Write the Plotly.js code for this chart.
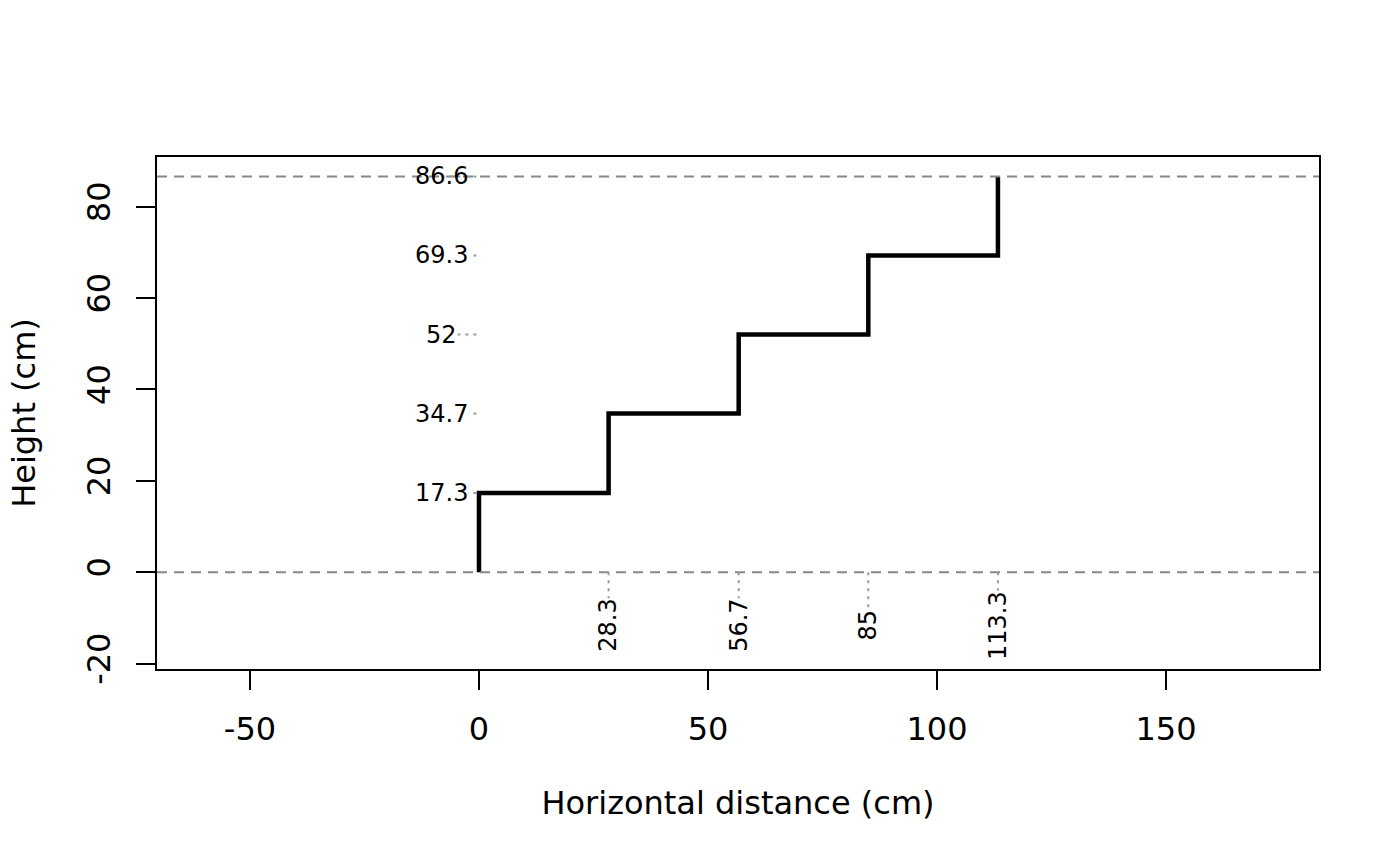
<!DOCTYPE html>
<html>
<head>
<meta charset="utf-8">
<script src="https://cdn.plot.ly/plotly-3.0.1.min.js"></script>
<style>html,body{margin:0;padding:0;background:#fff;}#chart{width:1400px;height:866px;}</style>
</head>
<body>
<div id="chart"></div>
<script>
// Data
const runX = [0, 28.3, 56.7, 85, 113.3];            // x position of each riser
const riseY = [0, 17.3, 34.7, 52, 69.3, 86.6];       // cumulative heights
const runLabels = ["28.3", "56.7", "85", "113.3"];
const riseLabels = ["17.3", "34.7", "52", "69.3", "86.6"];
const xTicks = [-50, 0, 50, 100, 150];
const yTicks = [-20, 0, 20, 40, 60, 80];
const labelX = -8.2;     // centre of the height labels (data units)
const labelY = -11.6;    // centre of the distance labels (data units)

// staircase path
const sx = [], sy = [];
for (let i = 0; i < runX.length; i++) {
  sx.push(runX[i]); sy.push(riseY[i]);
  sx.push(runX[i]); sy.push(riseY[i + 1]);
}

const FONT = "DejaVu Sans, Liberation Sans, sans-serif";
const grey = "#888888";

const shapes = [];
// dashed reference lines at ground and top
[riseY[0], riseY[riseY.length - 1]].forEach(v => {
  shapes.push({type: "line", xref: "paper", x0: 0, x1: 1, yref: "y", y0: v, y1: v,
    line: {color: grey, width: 2, dash: "10px,7px"}, layer: "above"});
});
// dotted leader lines for heights
riseY.slice(1).forEach(v => {
  shapes.push({type: "line", xref: "x", yref: "y", x0: labelX, x1: 0, y0: v, y1: v,
    line: {color: "#999999", width: 2, dash: "3px,5px"}, layer: "above"});
});
// dotted leader lines for distances
runX.slice(1).forEach(v => {
  shapes.push({type: "line", xref: "x", yref: "y", x0: v, x1: v, y0: 0, y1: labelY,
    line: {color: "#999999", width: 2, dash: "3px,5px"}, layer: "above"});
});

const annotations = [];
riseLabels.forEach((t, i) => {
  const last = i === riseLabels.length - 1;
  annotations.push({x: labelX, y: riseY[i + 1], xref: "x", yref: "y", text: t,
    showarrow: false, xanchor: "center", yanchor: "middle",
    font: {family: FONT, size: 24, color: "#000"},
    bgcolor: last ? "rgba(0,0,0,0)" : "#ffffff", borderpad: 0});
});
runLabels.forEach((t, i) => {
  annotations.push({x: runX[i + 1], y: labelY, xref: "x", yref: "y", text: t,
    showarrow: false, xanchor: "center", yanchor: "middle", textangle: -90,
    font: {family: FONT, size: 24, color: "#000"},
    bgcolor: "#ffffff", borderpad: 0});
});

const trace = {x: sx, y: sy, type: "scatter", mode: "lines",
  line: {color: "#000", width: 4.5}, hoverinfo: "skip", showlegend: false};

const layout = {
  width: 1400, height: 866,
  margin: {l: 157, r: 81, t: 157, b: 197},
  paper_bgcolor: "#fff", plot_bgcolor: "#fff",
  font: {family: FONT, size: 32, color: "#000"},
  showlegend: false,
  xaxis: {range: [-70.3, 183.4], tickvals: xTicks, ticktext: xTicks.map(String),
    showgrid: false, zeroline: false, showline: true, mirror: true,
    linecolor: "#000", linewidth: 2, ticks: "outside", ticklen: 19, tickwidth: 2,
    tickcolor: "#000", ticklabelstandoff: 12, automargin: false,
    tickfont: {family: FONT, size: 32, color: "#000"},
    title: {text: "Horizontal distance (cm)", standoff: 44, font: {family: FONT, size: 32, color: "#000"}}},
  yaxis: {range: [-21.2, 90.85], tickvals: yTicks, ticktext: yTicks.map(String),
    showgrid: false, zeroline: false, showline: true, mirror: true,
    linecolor: "#000", linewidth: 2, ticks: "outside", ticklen: 19, tickwidth: 2,
    tickcolor: "#000", tickangle: -90, ticklabelstandoff: 13, automargin: false,
    tickfont: {family: FONT, size: 32, color: "#000"},
    title: {text: "Height (cm)", standoff: 35, font: {family: FONT, size: 32, color: "#000"}}},
  shapes: shapes,
  annotations: annotations
};

Plotly.newPlot("chart", [trace], layout, {displayModeBar: false, staticPlot: true});
</script>
</body>
</html>
